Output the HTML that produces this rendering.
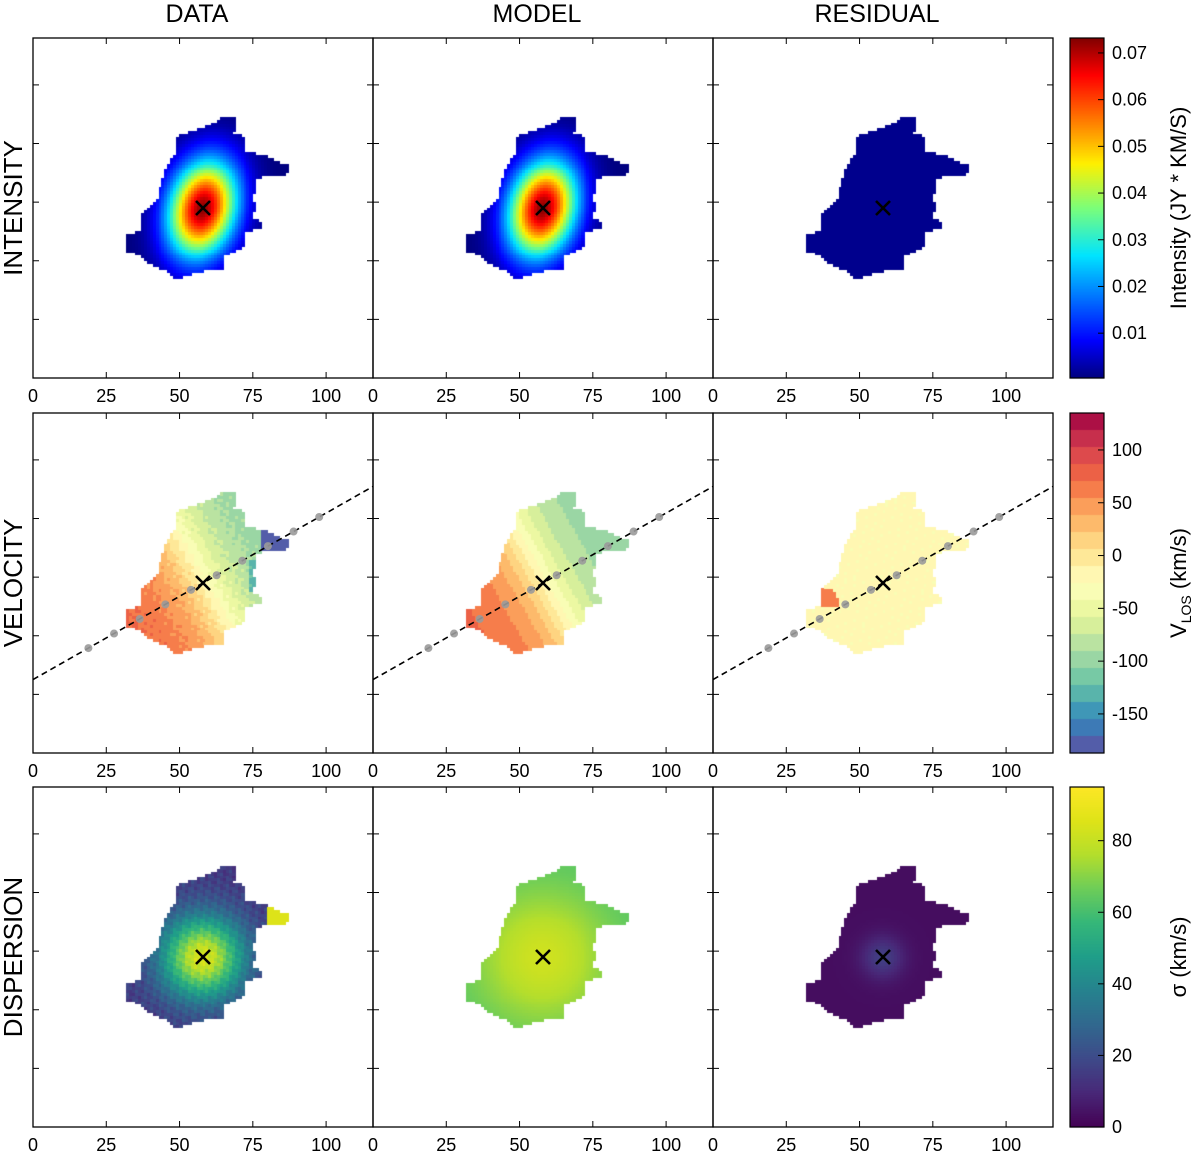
<!DOCTYPE html>
<html><head><meta charset="utf-8"><style>
html,body{margin:0;padding:0;background:#fff;}
#wrap{position:relative;width:1200px;height:1151px;overflow:hidden;}
canvas,svg{position:absolute;left:0;top:0;}
text{font-family:"Liberation Sans","DejaVu Sans",sans-serif;fill:#000;}
</style></head><body>
<div id="wrap">
<canvas id="cv" width="1200" height="1151"></canvas>
<svg id="sv" width="1200" height="1151" xmlns="http://www.w3.org/2000/svg"></svg>
</div>
<script>
// ---- data ----
const colTitles = ["DATA","MODEL","RESIDUAL"];
const rowTitles = ["INTENSITY","VELOCITY","DISPERSION"];
const xTicks = [0,25,50,75,100];
const yTicks = [20,40,60,80,100];
const center = [58,58];
const paSlope = 0.568;
const dotX = [18.9,27.65,36.4,45.15,53.9,62.65,71.4,80.15,88.9,97.65];
const cbTicksI = [0.01,0.02,0.03,0.04,0.05,0.06,0.07];
const cbRangeI = [0.0004,0.0732];
const cbTicksV = [100,50,0,-50,-100,-150];
const cbRangeV = [-187,135];
const cbTicksS = [0,20,40,60,80];
const cbRangeS = [0,95];
const cbLabels = ["Intensity (JY * KM/S)","V_LOS (km/s)","σ (km/s)"];
// blob outline, pixel offsets from centre
const blob = [[20,-91],[32,-91],[32,-82],[30,-74],[42,-71],[42,-57],[54,-54],[64,-51],[74,-47],[85,-42],[85,-34],[60,-32],[52,-27],[52,-17],[50,-9],[52,-2],[50,11],[60,16],[60,21],[42,23],[42,33],[37,41],[20,48],[20,61],[7,61],[-13,66],[-28,71],[-33,64],[-50,58],[-56,54],[-61,48],[-76,43],[-76,28],[-63,24],[-60,6],[-51,-2],[-45,-9],[-41,-26],[-33,-46],[-28,-52],[-26,-71],[-11,-76],[0,-79],[14,-86]];

const colL=[33,373,713], rowT=[38,413,787], W=340, N=116, S=W/N;
const cbX=1070, cbW=34;
const cv=document.getElementById('cv'), ctx=cv.getContext('2d');
const sv=document.getElementById('sv'), NS='http://www.w3.org/2000/svg';
function el(tag,attrs,parent,name,txt){const e=document.createElementNS(NS,tag);for(const k in attrs)e.setAttribute(k,attrs[k]);


if(txt!==undefined)e.textContent=txt;(parent||sv).appendChild(e);return e;}

function lerpMap(stops,t){t=Math.max(0,Math.min(1,t));for(let i=1;i<stops.length;i++){if(t<=stops[i][0]){const a=stops[i-1],b=stops[i],f=(t-a[0])/(b[0]-a[0]||1);return [0,1,2].map(k=>Math.round(a[1][k]+(b[1][k]-a[1][k])*f));}}return stops[stops.length-1][1];}
const jet=[[0,[0,0,128]],[0.11,[0,0,255]],[0.36,[0,228,255]],[0.5,[124,255,121]],[0.63,[255,240,0]],[0.89,[255,0,0]],[1,[128,0,0]]];
const spec=[[0,[94,79,162]],[0.1,[50,136,189]],[0.2,[102,194,165]],[0.3,[171,221,164]],[0.4,[230,245,152]],[0.5,[255,255,191]],[0.6,[254,224,139]],[0.7,[253,174,97]],[0.8,[244,109,67]],[0.9,[213,62,79]],[1,[158,1,66]]];
const vir=[[0,[68,1,84]],[0.1,[72,40,120]],[0.2,[62,74,137]],[0.3,[49,104,142]],[0.4,[38,130,142]],[0.5,[31,158,137]],[0.6,[53,183,121]],[0.7,[109,205,89]],[0.8,[180,222,44]],[0.9,[223,227,24]],[1,[253,231,37]]];
function specQ(t){const q=Math.floor(Math.max(0,Math.min(0.999,t))*20)/20+0.025;return lerpMap(spec,q);}

function inPoly(x,y){let c=false;for(let i=0,j=blob.length-1;i<blob.length;j=i++){const [xi,yi]=blob[i],[xj,yj]=blob[j];if(((yi>y)!=(yj>y))&&(x<(xj-xi)*(y-yi)/(yj-yi)+xi))c=!c;}return c;}

const th=Math.atan(paSlope);
function field(r,c,u,v){
  const s=u*Math.cos(th)+v*Math.sin(th);
  const rr=u*u+v*v;
  const a=0.25, ur=u*Math.cos(a)-v*Math.sin(a), vr=u*Math.sin(a)+v*Math.cos(a);
  const g=Math.exp(-(ur*ur/(2*7.8*7.8)+vr*vr/(2*11.5*11.5)));
  const n=Math.sin(u*1.7+v*0.9)*Math.cos(v*1.3-u*0.4);
  if(r===0){
    if(c===2) return lerpMap(jet,(0.0012-cbRangeI[0])/(cbRangeI[1]-cbRangeI[0]));
    return lerpMap(jet,(0.0725*g-cbRangeI[0])/(cbRangeI[1]-cbRangeI[0]));
  }
  if(r===1){
    let vel=-15-115*(2/Math.PI)*Math.atan(s/11);
    if(c===0){vel+=8*n; if(u>20&&v>9)vel=-175; else if(u>16&&v>-3&&v<8)vel-=40;}
    if(c===2){vel=-22+6*n; if(u<-15&&v<-2&&v>-8&&s<-16)vel=60;}
    return specQ((vel-cbRangeV[0])/(cbRangeV[1]-cbRangeV[0]));
  }
  let sg;
  if(c===0){sg=14+70*Math.exp(-rr/(2*10*10))+5*n; if(u>22&&v>9)sg=85;}
  else if(c===1) sg=62+20*Math.exp(-rr/(2*16*16));
  else sg=3+13*Math.exp(-rr/(2*5*5));
  return lerpMap(vir,sg/cbRangeS[1]);
}

for(let r=0;r<3;r++)for(let c=0;c<3;c++){
  const L=colL[c],T=rowT[r],B=T+W;
  const cx=L+center[0]*S, cy=B-center[1]*S;
  for(let i=0;i<N;i++)for(let j=0;j<N;j++){
    const px=L+(i+0.5)*S, py=B-(j+0.5)*S;
    if(!inPoly(px-cx,py-cy))continue;
    const col=field(r,c,i+0.5-center[0],j+0.5-center[1]);
    ctx.fillStyle='rgb('+col.join(',')+')';
    ctx.fillRect(Math.floor(L+i*S),Math.floor(B-(j+1)*S),Math.ceil(S)+1,Math.ceil(S)+1);
  }
}
function cbar(r,map,rng,quant){const T=rowT[r];for(let y=0;y<W;y++){const t=1-(y+0.5)/W;const col=quant?specQ(t):lerpMap(map,t);ctx.fillStyle='rgb('+col.join(',')+')';ctx.fillRect(cbX,T+y,cbW,1.2);}}
cbar(0,jet,cbRangeI,false);cbar(1,spec,cbRangeV,true);cbar(2,vir,cbRangeS,false);

colTitles.forEach((t,c)=>el('text',{x:colL[c]+W/2-6,y:22,'font-size':25,'text-anchor':'middle'},sv,'column-title-'+t.toLowerCase(),t));
rowTitles.forEach((t,r)=>el('text',{x:0,y:0,'font-size':26,'text-anchor':'middle',transform:`translate(22,${rowT[r]+W/2}) rotate(-90)`},sv,'row-title-'+t.toLowerCase(),t));
for(let r=0;r<3;r++)for(let c=0;c<3;c++){
  const L=colL[c],T=rowT[r],B=T+W,R=L+W;
  const g=el('g',{},sv,'panel-'+rowTitles[r].toLowerCase()+'-'+colTitles[c].toLowerCase());
  const xs=v=>L+v*S, ys=v=>B-v*S;
  if(r===1){
    el('line',{x1:xs(0),y1:ys(center[1]-paSlope*center[0]),x2:xs(N),y2:ys(center[1]+paSlope*(N-center[0])),stroke:'#000','stroke-width':1.6,'stroke-dasharray':'6,4'},g,'position-angle-line');
    dotX.forEach(d=>el('circle',{cx:xs(d),cy:ys(center[1]+paSlope*(d-center[0])),r:4,fill:'#9a9a9a','fill-opacity':0.9},g,'pv-sample-point'));
  }
  const mx=xs(center[0]),my=ys(center[1]);
  el('path',{d:`M${mx-7},${my-7}L${mx+7},${my+7}M${mx+7},${my-7}L${mx-7},${my+7}`,stroke:'#000','stroke-width':2.6},g,'centre-marker');
  el('rect',{x:L,y:T,width:W,height:W,fill:'none',stroke:'#000','stroke-width':1.3},g,'panel-frame');
  xTicks.forEach(v=>{const x=xs(v);
    el('line',{x1:x,y1:B,x2:x,y2:B-6,stroke:'#000'},g,'x-tick');
    el('line',{x1:x,y1:T,x2:x,y2:T+6,stroke:'#000'},g,'x-tick-top');
    el('text',{x:x,y:B+24,'font-size':18,'text-anchor':'middle'},g,'x-tick-label',String(v));});
  yTicks.forEach(v=>{const y=ys(v);
    el('line',{x1:L,y1:y,x2:L+6,y2:y,stroke:'#000'},g,'y-tick');
    el('line',{x1:R,y1:y,x2:R-6,y2:y,stroke:'#000'},g,'y-tick-right');});
}
const cbs=[[cbTicksI,cbRangeI,v=>v.toFixed(2)],[cbTicksV,cbRangeV,v=>String(v)],[cbTicksS,cbRangeS,v=>String(v)]];
cbs.forEach(([tk,rng,f],r)=>{const T=rowT[r];const g=el('g',{},sv,'colorbar-'+rowTitles[r].toLowerCase());
  el('rect',{x:cbX,y:T,width:cbW,height:W,fill:'none',stroke:'#000','stroke-width':1.2},g,'colorbar-frame');
  tk.forEach(v=>{const y=T+W-(v-rng[0])/(rng[1]-rng[0])*W;
    el('line',{x1:cbX+cbW,y1:y,x2:cbX+cbW-6,y2:y,stroke:'#000'},g,'colorbar-tick');
    el('text',{x:cbX+cbW+8,y:y+6,'font-size':18},g,'colorbar-tick-label',f(v));});
  const lx=1186, ly=T+W/2;
  if(r===1){const t=el('text',{x:0,y:0,'font-size':22,'text-anchor':'middle',transform:`translate(${lx},${ly}) rotate(-90)`},g,'colorbar-label');
    t.appendChild(document.createTextNode('V'));const s=document.createElementNS(NS,'tspan');s.setAttribute('font-size','14');s.setAttribute('dy','5');s.textContent='LOS';t.appendChild(s);
    const s2=document.createElementNS(NS,'tspan');s2.setAttribute('dy','-5');s2.textContent=' (km/s)';t.appendChild(s2);}
  else el('text',{x:0,y:0,'font-size':22,'text-anchor':'middle',transform:`translate(${lx},${ly}) rotate(-90)`},g,'colorbar-label',cbLabels[r]);
});
</script>
</body></html>
